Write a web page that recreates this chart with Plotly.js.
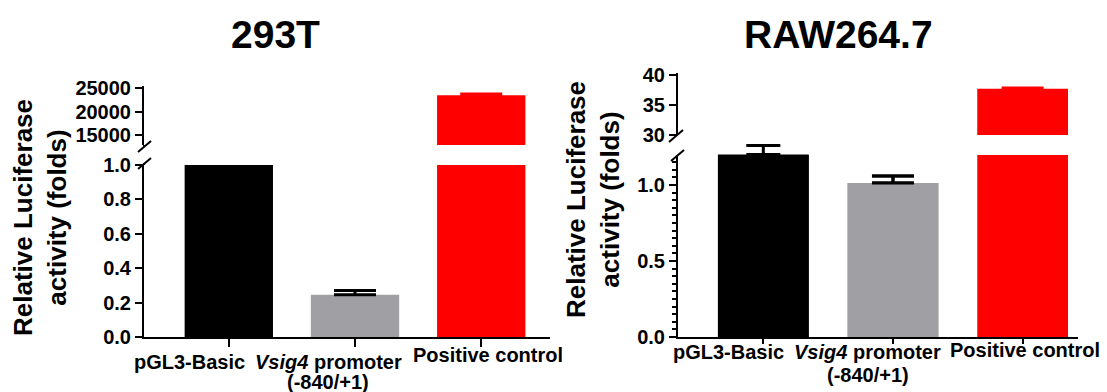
<!DOCTYPE html>
<html>
<head>
<meta charset="utf-8">
<script src="https://cdn.plot.ly/plotly-3.0.1.min.js"></script>
<style>html,body{margin:0;padding:0;background:#fff;}</style>
</head>
<body>
<div id="chart" style="width:1107px;height:392px;"></div>
<script>
// ---- data ----
const categories = ['pGL3-Basic', 'Vsig4 promoter (-840/+1)', 'Positive control'];
const categoryLabelLines = [['pGL3-Basic'], ['<i>Vsig4</i> promoter', '(-840/+1)'], ['Positive control']];
const values293T = [1.0, 0.245, 23500];
const errors293T = [0, 0.025, 300];
const valuesRAW = [1.2, 1.013, 37.7];
const errorsRAW = [0.06, 0.046, 0.15];
const tickVals293TUpper = [15000, 20000, 25000];
const tickVals293TLower = [0, 0.2, 0.4, 0.6, 0.8, 1.0];
const tickValsRAWUpper = [30, 35, 40];
const tickValsRAWLower = [0, 0.5, 1.0];
const chartTitles = ['293T', 'RAW264.7'];
const yTitle = 'Relative Luciferase<br>activity (folds)';

// ---- styles ----
const barColors = ['#000000', '#a0a0a4', '#ff0000'];
const errColors = ['#000000', '#000000', '#ff0000'];
const W = 1107, H = 392;
const px = x => x / W;
const py = y => (H - y) / H;
const FONT = 'Liberation Sans, Arial, sans-serif';

function barTrace(i, ys, errs, xa, ya, capW) {
  return {
    type: 'bar', x: [categories[i]], y: [ys[i]], xaxis: xa, yaxis: ya, width: 0.7,
    marker: {color: barColors[i], line: {width: 0}},
    error_y: {type: 'data', array: [errs[i]], arrayminus: [0], symmetric: false,
              color: errColors[i], thickness: 3, width: capW || 21, visible: true},
    showlegend: false, hoverinfo: 'skip'
  };
}

const RAW_LOWER_MAX = 1.197;
const rawCapWidths = [17, 21, 21];
const data = [];
categories.forEach((c, i) => {
  data.push(barTrace(i, values293T, errors293T, 'x', 'y'));
  data.push(barTrace(i, values293T, errors293T, 'x', 'y2'));
  data.push(barTrace(i, valuesRAW, errorsRAW, 'x2', 'y3', rawCapWidths[i]));
  if (valuesRAW[i] <= RAW_LOWER_MAX + 0.01) data.push(barTrace(i, valuesRAW, errorsRAW, 'x2', 'y5', rawCapWidths[i]));
  data.push(barTrace(i, valuesRAW, errorsRAW, 'x2', 'y4', rawCapWidths[i]));
});

const tickFont = {family: FONT, size: 20, color: '#000', weight: 'bold'};
function yAx(domain, range, tickvals, extra) {
  return Object.assign({
    domain: domain, range: range, autorange: false, tickvals: tickvals,
    showline: true, linewidth: 2, linecolor: '#000', ticks: 'outside', ticklen: 7, tickwidth: 2,
    tickcolor: '#000', showgrid: false, zeroline: false, tickfont: tickFont, fixedrange: true
  }, extra || {});
}
function xAx(domain, range, anchor, tlen) {
  return {
    domain: domain, range: range, autorange: false, type: 'category',
    categoryorder: 'array', categoryarray: categories, anchor: anchor, showticklabels: false,
    showline: true, linewidth: 2, linecolor: '#000', ticks: 'outside', ticklen: tlen, tickwidth: 2,
    tickcolor: '#000', showgrid: false, zeroline: false, fixedrange: true
  };
}

function line(x0, y0, x1, y1) {
  return {type: 'line', xref: 'paper', yref: 'paper', x0: px(x0), y0: py(y0), x1: px(x1), y1: py(y1),
          line: {color: '#000', width: 2}};
}
function label(text, x, y, size, angle) {
  return {text: '<b>' + text + '</b>', xref: 'paper', yref: 'paper', x: px(x), y: py(y),
          xanchor: 'center', yanchor: 'middle', textangle: angle || 0, showarrow: false,
          font: {family: FONT, size: size, color: '#000'}};
}
// category labels positioned on the category axis, with small per-label nudges
const labelNudges = {
  x:  {dx: [-39, -27, 7], y: [[362], [362, 382], [355]]},
  x2: {dx: [-35, -25, 2], y: [[352], [352, 375], [350]]}
};
function catLabels(xref) {
  const out = [];
  categoryLabelLines.forEach((lines, i) => {
    lines.forEach((t, k) => {
      out.push({text: '<b>' + t + '</b>', xref: xref, yref: 'paper', x: categories[i],
                y: py(labelNudges[xref].y[i][k]), xshift: labelNudges[xref].dx[i],
                xanchor: 'center', yanchor: 'middle', showarrow: false,
                font: {family: FONT, size: 20, color: '#000'}});
    });
  });
  return out;
}

const layout = {
  width: W, height: H, margin: {l: 0, r: 0, t: 0, b: 0},
  paper_bgcolor: '#fff', plot_bgcolor: 'rgba(0,0,0,0)', barmode: 'overlay',
  xaxis: xAx([px(144), px(550)], [-0.672, 2.545], 'y', 8),
  yaxis: yAx([py(337), py(165)], [0, 1.0], tickVals293TLower, {anchor: 'x', tickformat: '.1f'}),
  yaxis2: yAx([py(145), py(86)], [12850, 25490], tickVals293TUpper, {anchor: 'x', tickformat: 'd'}),
  xaxis2: xAx([px(678), px(1078)], [-0.658, 2.427], 'y3', 5),
  yaxis3: yAx([py(337), py(155)], [0, RAW_LOWER_MAX], tickValsRAWLower, {anchor: 'x2', tickformat: '.1f',
          minor: {dtick: 0.05, ticks: 'outside', ticklen: 4, tickwidth: 2, tickcolor: '#000', showgrid: false}}),
  yaxis4: yAx([py(135), py(73)], [30, 40.33], tickValsRAWUpper, {anchor: 'x2', tickformat: 'd'}),
  yaxis5: {domain: [py(337), py(140)], range: [0, 1.296], autorange: false, anchor: 'x2',
           visible: false, showgrid: false, zeroline: false, fixedrange: true},
  shapes: [
    // left break
    line(138, 152, 151, 141), line(138, 169, 151, 158), line(144, 145, 144, 147), line(144, 163, 144, 165),
    // right break
    line(669, 142, 683, 130), line(671, 161, 684, 150)
  ],
  annotations: [
    label(chartTitles[0], 275, 34, 39),
    label(chartTitles[1], 838, 34, 39),
    label(yTitle, 40, 218, 26, -90),
    label(yTitle, 593, 200, 26, -90)
  ].concat(catLabels('x'), catLabels('x2'))
};

Plotly.newPlot('chart', data, layout, {staticPlot: true, displayModeBar: false});
</script>
</body>
</html>
